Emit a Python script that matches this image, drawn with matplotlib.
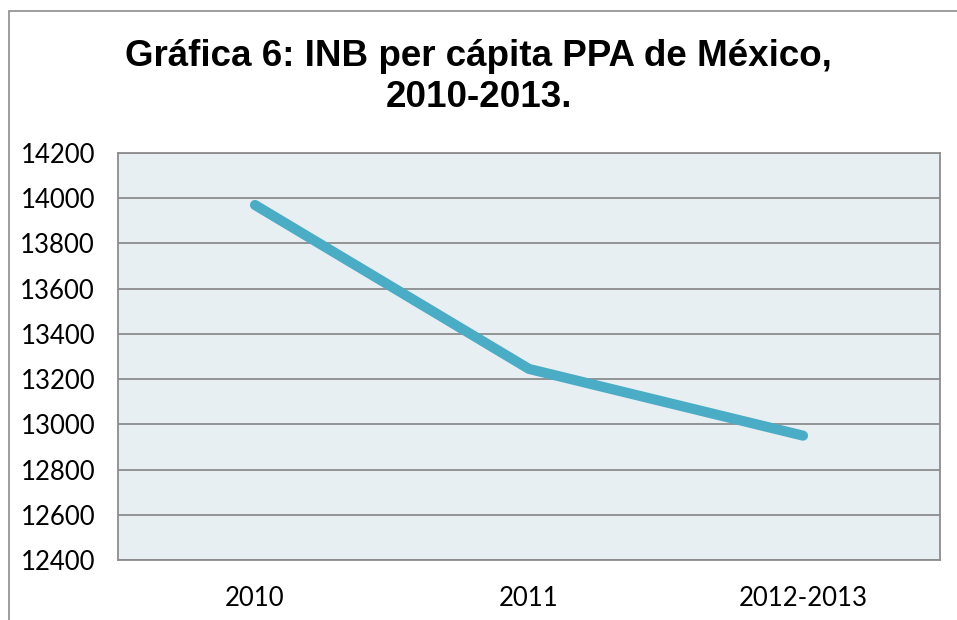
import matplotlib
matplotlib.use('Agg')
import matplotlib.pyplot as plt
from matplotlib.patches import Rectangle

# data
periods = ['2010', '2011', '2012-2013']
inb_ppa = [13970, 13245, 12950]
y_ticks = [12400, 12600, 12800, 13000, 13200, 13400, 13600, 13800, 14000, 14200]

title = 'Gráfica 6: INB per cápita PPA de México,\n2010-2013.'

fig = plt.figure(figsize=(9.57, 6.2), dpi=100)
ax = fig.add_axes([118 / 957, 1 - 560 / 620, 822 / 957, 407 / 620])

# outer chart frame (only the top and left edges show in the crop)
fig.patches.append(Rectangle((8.5 / 957, -0.1), 1.2, 1 - 11 / 620 + 0.1,
                             transform=fig.transFigure, fill=False,
                             edgecolor='#8c8c8c', linewidth=1.2))

x = list(range(len(periods)))
ax.plot(x, inb_ppa, color='#4bacc6', linewidth=7.3, solid_capstyle='round',
        solid_joinstyle='round', zorder=3)

ax.set_facecolor('#e8eff3')
ax.set_xlim(-0.5, len(periods) - 0.5)
ax.set_ylim(y_ticks[0], y_ticks[-1])
ax.set_yticks(y_ticks)
ax.set_xticks(x)
ax.set_xticklabels(periods)
ax.yaxis.grid(True, color='#8c8c8c', linewidth=1.3)
ax.set_axisbelow(True)
ax.tick_params(length=0, labelsize=18.5)
ax.tick_params(axis='y', pad=16.5)
ax.tick_params(axis='x', pad=19)
for lab in ax.get_xticklabels() + ax.get_yticklabels():
    lab.set_family('Lato')
for s in ax.spines.values():
    s.set_color('#8c8c8c')
    s.set_linewidth(1.3)

fig.text(0.5, 1 - 77 / 620, title, ha='center', va='center',
         fontsize=26.5, fontweight='bold', family='Liberation Sans',
         linespacing=1.2)

fig.savefig('out.png', dpi=100)
